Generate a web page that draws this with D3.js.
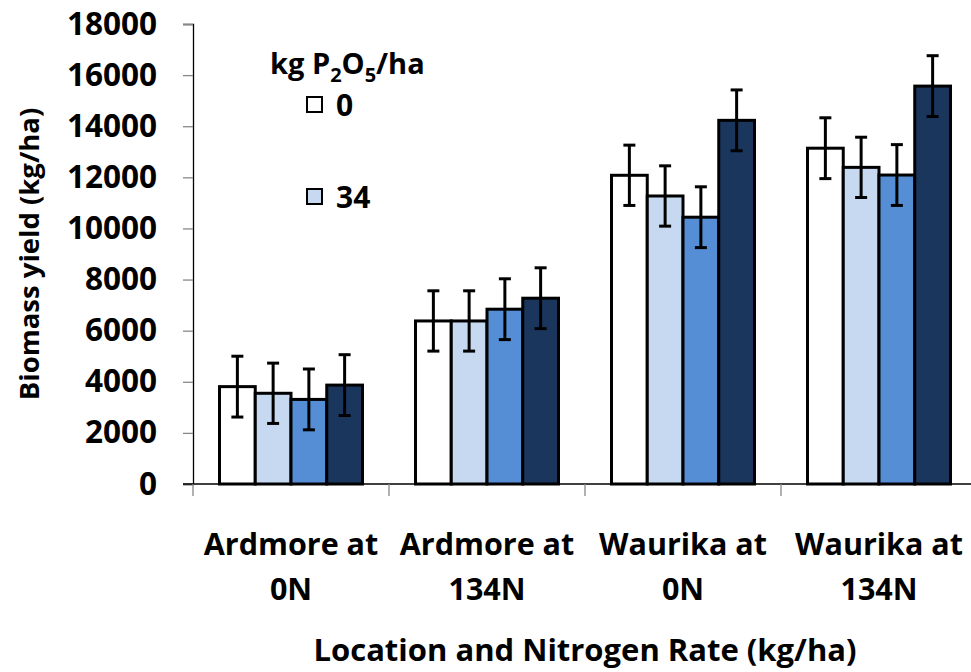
<!DOCTYPE html>
<html>
<head>
<meta charset="utf-8">
<script src="https://cdn.jsdelivr.net/npm/d3@7"></script>
<style>
  body { margin: 0; background: #fff; }
  text { font-family: "Open Sans", "Liberation Sans", sans-serif; font-weight: bold; fill: #000; }
</style>
</head>
<body>
<div id="chart"></div>
<script>
// data
const categories = ["Ardmore at|0N", "Ardmore at|134N", "Waurika at|0N", "Waurika at|134N"];
const rates = ["0", "34", "67", "101"];   // kg P2O5/ha, only 0 and 34 are shown in the legend
const yields = [
  [3810, 3550, 3310, 3870],
  [6380, 6380, 6840, 7270],
  [12080, 11270, 10440, 14230],
  [13140, 12390, 12090, 15570]
];
const errors = [
  [1190, 1180, 1190, 1190],
  [1180, 1180, 1190, 1190],
  [1180, 1180, 1190, 1190],
  [1190, 1180, 1190, 1190]
];
const yTicks = [0, 2000, 4000, 6000, 8000, 10000, 12000, 14000, 16000, 18000];
const colors = ["#ffffff", "#c6d9f1", "#558ed5", "#1a365d"];

const width = 971;
const height = 672;

const svg = d3.select("#chart")
  .append("svg")
  .attr("width", width)
  .attr("height", height);

const plotLeft = 193, plotTop = 24, plotBottom = 484, plotRight = 977;

const y = d3.scaleLinear().domain([0, 18000]).range([plotBottom, plotTop]);
const x0 = d3.scaleBand().domain(categories).range([plotLeft, plotRight]).padding(0);
const x1 = d3.scaleBand().domain(rates).range([0, 143]).padding(0);
const groupOffset = (x0.bandwidth() - 143) / 2;

// y axis
const yAxis = svg.append("g")
  .attr("transform", `translate(${plotLeft},0)`)
  .call(d3.axisLeft(y).tickValues(yTicks).tickSize(10).tickPadding(26).tickFormat(d3.format("d")));
yAxis.select(".domain").attr("stroke", "#000").attr("stroke-width", 1.3);
yAxis.selectAll(".tick line").attr("stroke", "#888").attr("stroke-width", 1.3);
yAxis.selectAll(".tick text")
  .style("font-size", "31.5px")
  .style("font-family", "'Open Sans', sans-serif")
  .style("font-weight", "bold")
  .attr("fill", "#000");

// x axis line with category boundary ticks
svg.append("line")
  .attr("x1", plotLeft - 10).attr("x2", width)
  .attr("y1", plotBottom).attr("y2", plotBottom)
  .attr("stroke", "#000").attr("stroke-width", 1.3);

const bounds = categories.map(c => x0(c));
svg.selectAll(".xtick")
  .data(bounds)
  .join("line")
  .attr("class", "xtick")
  .attr("x1", d => d).attr("x2", d => d)
  .attr("y1", plotBottom).attr("y2", plotBottom + 12)
  .attr("stroke", "#888").attr("stroke-width", 1.3);

// bars
const groups = svg.selectAll(".grp")
  .data(categories)
  .join("g")
  .attr("class", "grp")
  .attr("transform", d => `translate(${x0(d) + groupOffset},0)`);

groups.each(function(cat, i) {
  const g = d3.select(this);
  const rows = rates.map((r, j) => ({ r, v: yields[i][j], e: errors[i][j], c: colors[j] }));

  g.selectAll("rect")
    .data(rows)
    .join("rect")
    .attr("x", d => x1(d.r))
    .attr("y", d => y(d.v))
    .attr("width", x1.bandwidth())
    .attr("height", d => y(0) - y(d.v))
    .attr("fill", d => d.c)
    .attr("stroke", "#000")
    .attr("stroke-width", 3);

  // error bars
  const eb = g.selectAll(".err")
    .data(rows)
    .join("g")
    .attr("class", "err")
    .attr("transform", d => `translate(${x1(d.r) + x1.bandwidth() / 2},0)`);
  eb.append("line")
    .attr("y1", d => y(d.v + d.e)).attr("y2", d => y(d.v - d.e))
    .attr("stroke", "#000").attr("stroke-width", 3);
  eb.append("line")
    .attr("x1", -6).attr("x2", 6)
    .attr("y1", d => y(d.v + d.e)).attr("y2", d => y(d.v + d.e))
    .attr("stroke", "#000").attr("stroke-width", 3);
  eb.append("line")
    .attr("x1", -6).attr("x2", 6)
    .attr("y1", d => y(d.v - d.e)).attr("y2", d => y(d.v - d.e))
    .attr("stroke", "#000").attr("stroke-width", 3);
});

// category labels (two lines)
svg.selectAll(".cat")
  .data(categories)
  .join("text")
  .attr("class", "cat")
  .attr("text-anchor", "middle")
  .style("font-size", "30.5px")
  .each(function(d) {
    const parts = d.split("|");
    const t = d3.select(this);
    const cx = x0(d) + x0.bandwidth() / 2;
    t.append("tspan").attr("x", cx).attr("y", 555).text(parts[0]);
    t.append("tspan").attr("x", cx).attr("y", 600).text(parts[1]);
  });

// axis titles
svg.append("text")
  .attr("x", (plotLeft + plotRight) / 2)
  .attr("y", 661)
  .attr("text-anchor", "middle")
  .style("font-size", "31px")
  .text("Location and Nitrogen Rate (kg/ha)");

svg.append("text")
  .attr("transform", `translate(39,${(plotTop + plotBottom) / 2}) rotate(-90)`)
  .attr("text-anchor", "middle")
  .style("font-size", "27.5px")
  .text("Biomass yield (kg/ha)");

// legend
const lt = svg.append("text")
  .attr("x", 270)
  .attr("y", 74)
  .style("font-size", "29px");
lt.append("tspan").text("kg P");
lt.append("tspan").attr("dy", 8).style("font-size", "20px").text("2");
lt.append("tspan").attr("dy", -8).text("O");
lt.append("tspan").attr("dy", 8).style("font-size", "20px").text("5");
lt.append("tspan").attr("dy", -8).text("/ha");

const legendRows = [0, 1];
const legendY = [105, 197];
const leg = svg.selectAll(".leg")
  .data(legendRows)
  .join("g")
  .attr("class", "leg")
  .attr("transform", (d, i) => `translate(306,${legendY[i]})`);
leg.append("rect")
  .attr("x", 1).attr("y", -8)
  .attr("width", 15).attr("height", 15)
  .attr("fill", d => colors[d])
  .attr("stroke", "#000").attr("stroke-width", 2);
leg.append("text")
  .attr("x", 30)
  .attr("y", 11)
  .style("font-size", "30px")
  .text(d => rates[d]);
</script>
</body>
</html>
